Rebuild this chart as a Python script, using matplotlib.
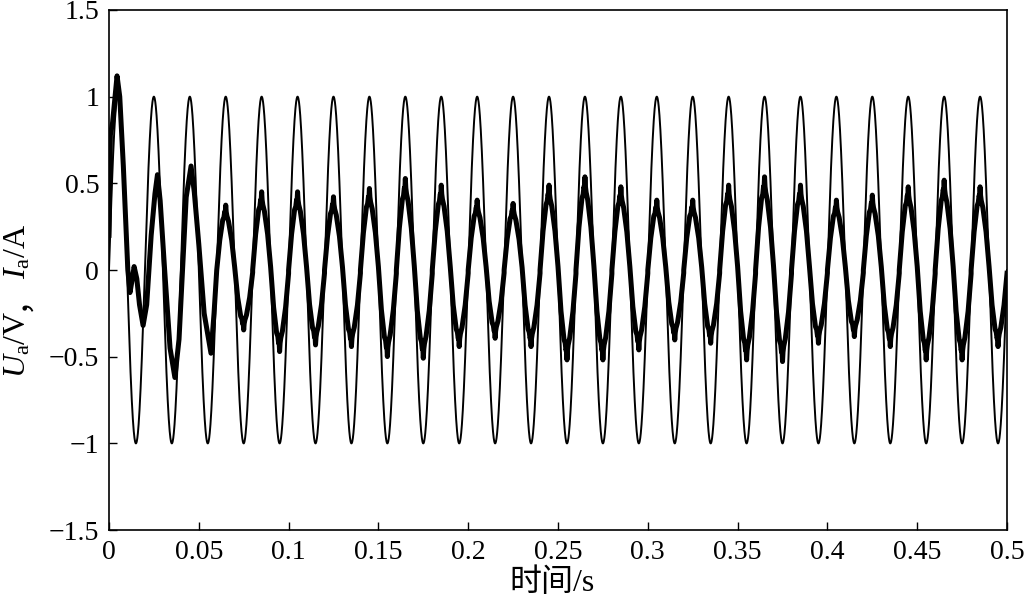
import numpy as np
import matplotlib
matplotlib.use('Agg')
import matplotlib.pyplot as plt
from matplotlib.transforms import IdentityTransform

plt.rcParams['font.family'] = ['Liberation Serif', 'Noto Sans CJK SC']
plt.rcParams['mathtext.fontset'] = 'custom'
plt.rcParams['mathtext.rm'] = 'Liberation Serif'
plt.rcParams['mathtext.it'] = 'Liberation Serif:italic'
plt.rcParams['axes.unicode_minus'] = True

# supply voltage: 50 Hz, amplitude 1
volt_freq = 50.0
volt_amp = 1.0

# current start-up transient (first three cycles)
start_t = [0.0, 0.0008, 0.002, 0.0045, 0.006, 0.008, 0.0105, 0.0117, 0.013,
           0.014, 0.0155, 0.017, 0.019, 0.021, 0.0235, 0.0256, 0.027, 0.0285,
           0.031, 0.034, 0.0367, 0.039, 0.043, 0.0457, 0.0475, 0.050, 0.053,
           0.0568, 0.0585]
start_i = [0.2, 0.78, 0.85, 1.12, 1.0, 0.6, 0.0, -0.13, -0.05,
           0.02, -0.05, -0.2, -0.32, -0.2, 0.2, 0.44, 0.55, 0.4,
           0.0, -0.45, -0.62, -0.4, 0.42, 0.6, 0.45, 0.15, -0.25,
           -0.48, -0.25]

# steady state: peak / trough of each cycle (cycles 3..24)
cycle_peak = [0.39, 0.47, 0.47, 0.44, 0.49, 0.55, 0.51, 0.42, 0.40, 0.51, 0.56,
              0.50, 0.42, 0.42, 0.51, 0.56, 0.51, 0.42, 0.45, 0.50, 0.54, 0.50]
cycle_trough = [-0.36, -0.49, -0.45, -0.46, -0.52, -0.53, -0.46, -0.41, -0.46, -0.54, -0.54,
                -0.48, -0.42, -0.44, -0.54, -0.55, -0.44, -0.40, -0.46, -0.54, -0.54, -0.46]

# half-cycle shape of the current (phase in degrees, fraction of the peak)
half_phase = [0, 30, 60, 72, 80, 85, 90, 95, 102, 118, 150, 180]
half_shape = [0.0, 0.44, 0.74, 0.78, 0.86, 0.84, 0.96, 0.86, 0.80, 0.72, 0.44, 0.04]

x_ticks = [0, 0.05, 0.1, 0.15, 0.2, 0.25, 0.3, 0.35, 0.4, 0.45, 0.5]
x_tick_labels = ['0', '0.05', '0.1', '0.15', '0.2', '0.25', '0.3', '0.35', '0.4', '0.45', '0.5']
y_ticks = [-1.5, -1, -0.5, 0, 0.5, 1, 1.5]
y_tick_labels = ['\u22121.5', '\u22121', '\u22120.5', '0', '0.5', '1', '1.5']

period = 1.0 / volt_freq
t_v = np.linspace(0, 0.5, 5001)
u_v = volt_amp * np.sin(2 * np.pi * volt_freq * t_v)

cur_t = list(start_t)
cur_i = list(start_i)
for n, (pk, tr) in enumerate(zip(cycle_peak, cycle_trough)):
    k = n + 3
    for ph, sh in zip(half_phase, half_shape):
        cur_t.append(k * period + ph / 360 * period)
        cur_i.append(sh * pk)
    for ph, sh in zip(half_phase[1:], half_shape[1:]):
        cur_t.append(k * period + (ph + 180) / 360 * period)
        cur_i.append(sh * tr)
cur_t = np.array(cur_t)
cur_i = np.array(cur_i)
keep = cur_t <= 0.5

fig = plt.figure(figsize=(10.28, 6.01), dpi=100)
ax = fig.add_axes([0.106, 0.118, 0.8736, 0.8654])
ax.plot(t_v, u_v, color='black', linewidth=1.4)
ax.plot(cur_t[keep], cur_i[keep], color='black', linewidth=3.6)

ax.set_xlim(0, 0.5)
ax.set_ylim(-1.5, 1.5)
ax.set_xticks(x_ticks)
ax.set_xticklabels(x_tick_labels)
ax.set_yticks(y_ticks)
ax.set_yticklabels(y_tick_labels)
ax.tick_params(direction='in', length=6, width=1, labelsize=20, pad=7)
for sp in ax.spines.values():
    sp.set_linewidth(1.2)

fig.text(0.537, 0.005, '时间/s', fontsize=23, ha='center', va='bottom')

# y label built in pieces so the full-width comma can use the CJK font
fig.canvas.draw()
renderer = fig.canvas.get_renderer()
ypos = 601 - 378
for s in [r'$U_\mathrm{a}$/V', '，', r'$I_\mathrm{a}$/A']:
    txt = fig.text(26, ypos, s, fontsize=23, rotation=90, rotation_mode='anchor',
                   ha='left', va='baseline', transform=IdentityTransform())
    ext = txt.get_window_extent(renderer)
    ypos += ext.height

fig.savefig('out.png', dpi=100)
